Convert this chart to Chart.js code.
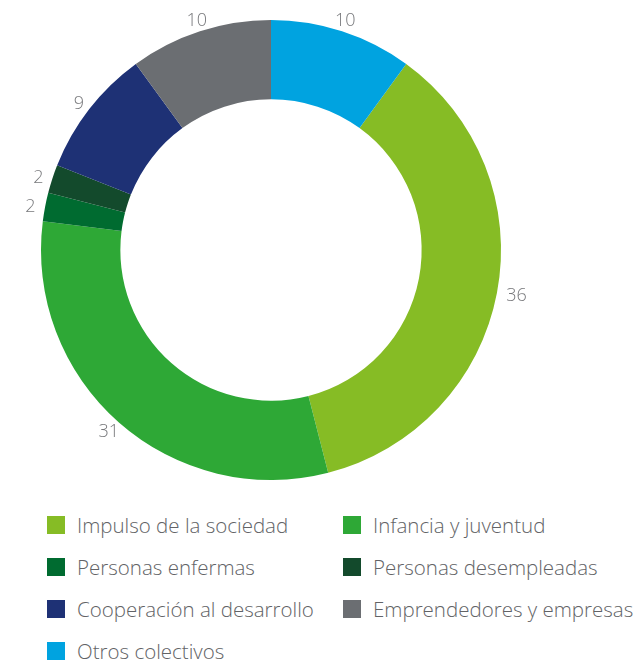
<!DOCTYPE html>
<html>
<head>
<meta charset="utf-8">
<script src="https://cdn.jsdelivr.net/npm/chart.js@4/dist/chart.umd.min.js"></script>
<style>
  html, body { margin: 0; padding: 0; background: #fff; }
  #wrap { position: relative; width: 638px; height: 663px; }
  #chartBox { position: absolute; left: 0; top: 0; width: 638px; height: 500px; }
  #legend { position: absolute; left: 47px; top: 504px; width: 591px; font-family: "Open Sans", sans-serif; font-weight: 300; font-size: 20.5px; color: #626366; }
  .item { position: absolute; height: 42px; display: flex; align-items: center; white-space: nowrap; }
  .sw { width: 18px; height: 18px; margin-right: 12px; flex: none; }
</style>
</head>
<body>
<div id="wrap">
  <div id="chartBox"><canvas id="c"></canvas></div>
  <div id="legend"></div>
</div>
<script>
const categories = [
  "Impulso de la sociedad",
  "Infancia y juventud",
  "Personas enfermas",
  "Personas desempleadas",
  "Cooperación al desarrollo",
  "Emprendedores y empresas",
  "Otros colectivos"
];
const values = [36, 31, 2, 2, 9, 10, 10];
const colors = ["#86bc25", "#2ea836", "#006b30", "#134a2c", "#1e3175", "#6b6e72", "#00a3e0"];

const outsideLabels = {
  id: "outsideLabels",
  afterDatasetsDraw(chart) {
    const ctx = chart.ctx;
    const meta = chart.getDatasetMeta(0);
    ctx.save();
    ctx.font = "300 18px 'Open Sans', sans-serif";
    ctx.fillStyle = "#77787b";
    ctx.textAlign = "center";
    ctx.textBaseline = "middle";
    meta.data.forEach((arc, i) => {
      const p = arc.getProps(["x", "y", "startAngle", "endAngle", "outerRadius"], true);
      const mid = (p.startAngle + p.endAngle) / 2;
      const txt = String(values[i]);
      const w = ctx.measureText(txt).width;
      const h = 13;
      const r = p.outerRadius + 6;
      const cx = p.x + Math.cos(mid) * (r + (w / 2 + 4) * Math.abs(Math.cos(mid)));
      const cy = p.y + Math.sin(mid) * (r + h / 2 * Math.abs(Math.sin(mid)));
      ctx.fillText(txt, cx, cy + 1);
    });
    ctx.restore();
  }
};

new Chart(document.getElementById("c"), {
  type: "doughnut",
  data: {
    labels: categories,
    datasets: [{ data: values, backgroundColor: colors, borderWidth: 0 }]
  },
  options: {
    responsive: true,
    maintainAspectRatio: false,
    animation: false,
    rotation: 36,
    cutout: "65.5%",
    layout: { padding: { left: 20, right: 116, top: 20, bottom: 20 } },
    plugins: { legend: { display: false }, tooltip: { enabled: false } }
  },
  plugins: [outsideLabels]
});

const legend = document.getElementById("legend");
categories.forEach((name, i) => {
  const d = document.createElement("div");
  d.className = "item";
  d.style.left = (i % 2 === 0 ? 0 : 296) + "px";
  d.style.top = (Math.floor(i / 2) * 42) + "px";
  d.innerHTML = '<span class="sw" style="background:' + colors[i] + '"></span><span>' + name + '</span>';
  legend.appendChild(d);
});
</script>
</body>
</html>
